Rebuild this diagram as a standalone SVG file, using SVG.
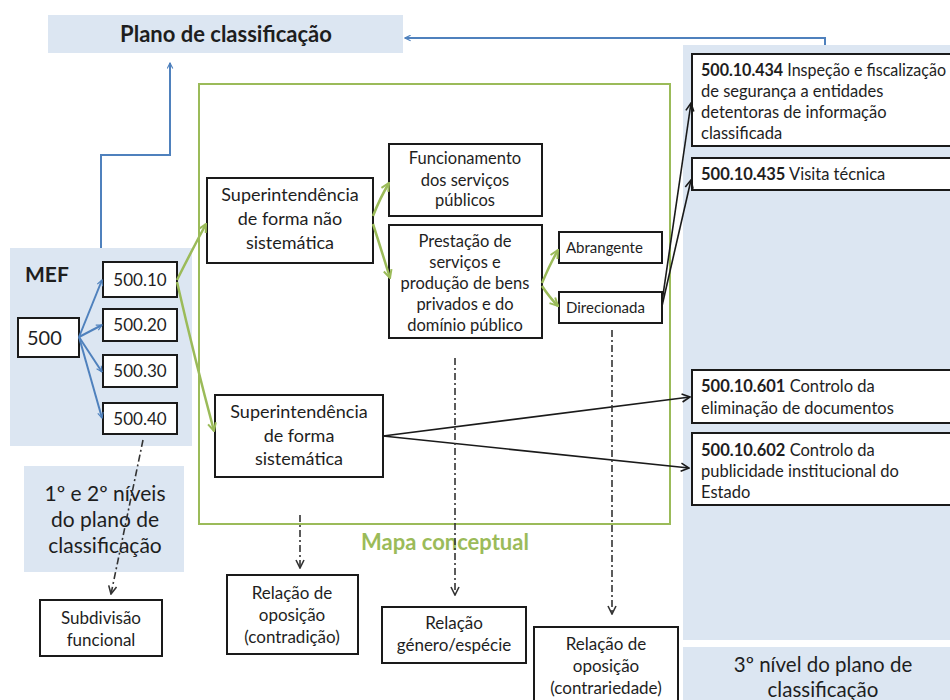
<svg xmlns="http://www.w3.org/2000/svg" width="950" height="700" viewBox="0 0 950 700">
<defs>
<style>
text{font-family:Lato,"Liberation Sans",sans-serif;fill:#1e1e1e}
.box{fill:#fff;stroke:#1a1a1a;stroke-width:2}
.bg{fill:#dce6f2}
.c{text-anchor:middle}
.b{font-weight:bold}
.blue{fill:none;stroke:#4f81bd;stroke-width:2}
.green{fill:none;stroke:#9bbb59;stroke-width:2.5}
.black{fill:none;stroke:#1a1a1a;stroke-width:1.6}
.dd{fill:none;stroke:#333;stroke-width:1.6;stroke-dasharray:7 3 2 3}
.t{font-size:16.5px}
.r{font-size:17px}
</style>
<marker id="ab" viewBox="0 0 10 10" refX="9" refY="5" markerWidth="7" markerHeight="7" orient="auto" markerUnits="userSpaceOnUse">
<path d="M1,1 L9,5 L1,9" fill="none" stroke="#4f81bd" stroke-width="1.6"/></marker>
<marker id="ag" viewBox="0 0 10 10" refX="9" refY="5" markerWidth="10" markerHeight="10" orient="auto" markerUnits="userSpaceOnUse">
<path d="M1,1 L9,5 L1,9" fill="none" stroke="#9bbb59" stroke-width="2"/></marker>
<marker id="ak" viewBox="0 0 10 10" refX="9" refY="5" markerWidth="10" markerHeight="10" orient="auto" markerUnits="userSpaceOnUse">
<path d="M1,1 L9,5 L1,9" fill="none" stroke="#1a1a1a" stroke-width="1.6"/></marker>
<marker id="ad" viewBox="0 0 10 10" refX="9" refY="5" markerWidth="10" markerHeight="10" orient="auto" markerUnits="userSpaceOnUse">
<path d="M1,1 L9,5 L1,9" fill="none" stroke="#333" stroke-width="1.6"/></marker>
</defs>
<rect width="950" height="700" fill="#fff"/>

<g id="plano">
<rect class="bg" x="48" y="15" width="355" height="38"/>
<text class="c b" x="226" y="42" font-size="22">Plano de classificação</text>
</g>
<g id="nivel3">
<rect class="bg" x="683" y="45" width="267" height="595"/>
<rect class="bg" x="683" y="647" width="267" height="53"/>
<text class="c" x="823" y="672" font-size="20.5">3º nível do plano de</text>
<text class="c" x="823" y="697" font-size="20.5">classificação</text>
</g>
<g id="mef">
<rect class="bg" x="10" y="248" width="182" height="198"/>
<text class="b" x="25" y="282" font-size="21">MEF</text>
</g>
<g id="niveis12">
<rect class="bg" x="24" y="466" width="160" height="106"/>
<text class="c" x="105" y="501" font-size="21">1º e 2º níveis</text>
<text class="c" x="105" y="527" font-size="21">do plano de</text>
<text class="c" x="105" y="553" font-size="21">classificação</text>
</g>
<g id="mapa">
<rect x="199" y="84" width="471" height="440" fill="none" stroke="#9bbb59" stroke-width="2"/>
<text class="c b" x="445" y="550" font-size="22" style="fill:#9bbb59">Mapa conceptual</text>
</g>

<g id="n500"><rect class="box" x="18" y="318" width="61" height="39"/><text x="27" y="345" font-size="20">500</text></g>
<g id="n50010"><rect class="box" x="103" y="262" width="74" height="35"/><text class="c" x="140" y="286" font-size="17">500.10</text></g>
<g id="n50020"><rect class="box" x="103" y="309" width="74" height="32"/><text class="c" x="140" y="331" font-size="17">500.20</text></g>
<g id="n50030"><rect class="box" x="103" y="355" width="74" height="32"/><text class="c" x="140" y="377" font-size="17">500.30</text></g>
<g id="n50040"><rect class="box" x="103" y="403" width="74" height="31"/><text class="c" x="140" y="425" font-size="17">500.40</text></g>

<g id="supNao"><rect class="box" x="207" y="178" width="166" height="85"/>
<text class="c" x="290" y="201" font-size="18">Superintendência</text>
<text class="c" x="290" y="225" font-size="18">de forma não</text>
<text class="c" x="290" y="249" font-size="18">sistemática</text></g>

<g id="supSis"><rect class="box" x="215" y="395" width="168" height="82"/>
<text class="c" x="299" y="418" font-size="18">Superintendência</text>
<text class="c" x="299" y="442" font-size="18">de forma</text>
<text class="c" x="299" y="465" font-size="18">sistemática</text></g>

<g id="func"><rect class="box" x="389" y="144" width="153" height="72"/>
<text class="c" x="465" y="164" font-size="16.5">Funcionamento</text>
<text class="c" x="465" y="186" font-size="16.5">dos serviços</text>
<text class="c" x="465" y="206" font-size="16.5">públicos</text></g>

<g id="prest"><rect class="box" x="389" y="225" width="153" height="113"/>
<text class="c" x="465" y="247" font-size="16.5">Prestação de</text>
<text class="c" x="465" y="268" font-size="16.5">serviços e</text>
<text class="c" x="465" y="289" font-size="16.5">produção de bens</text>
<text class="c" x="465" y="310" font-size="16.5">privados e do</text>
<text class="c" x="465" y="331" font-size="16.5">domínio público</text></g>

<g id="abr"><rect class="box" x="559" y="232" width="103" height="31"/>
<text x="566" y="253" font-size="15">Abrangente</text></g>
<g id="dir"><rect class="box" x="559" y="292" width="103" height="31"/>
<text x="566" y="313" font-size="15">Direcionada</text></g>

<g id="n434"><rect class="box" x="692" y="54" width="262" height="92"/>
<text class="t" x="701" y="76" textLength="245" lengthAdjust="spacingAndGlyphs"><tspan class="b">500.10.434</tspan> Inspeção e fiscalização</text>
<text class="t" x="701" y="97">de segurança a entidades</text>
<text class="t" x="701" y="118">detentoras de informação</text>
<text class="t" x="701" y="139">classificada</text></g>

<g id="n435"><rect class="box" x="692" y="158" width="262" height="32"/>
<text class="t" x="701" y="180"><tspan class="b">500.10.435</tspan> Visita técnica</text></g>

<g id="n601"><rect class="box" x="692" y="370" width="262" height="53"/>
<text class="t" x="701" y="392"><tspan class="b">500.10.601</tspan> Controlo da</text>
<text class="t" x="701" y="414">eliminação de documentos</text></g>

<g id="n602"><rect class="box" x="692" y="433" width="262" height="72"/>
<text class="t" x="701" y="456"><tspan class="b">500.10.602</tspan> Controlo da</text>
<text class="t" x="701" y="477">publicidade institucional do</text>
<text class="t" x="701" y="498">Estado</text></g>

<g id="subdiv"><rect class="box" x="40" y="600" width="122" height="56"/>
<text class="c r" x="101" y="624">Subdivisão</text>
<text class="c r" x="101" y="646">funcional</text></g>

<g id="contradicao"><rect class="box" x="227" y="575" width="131" height="79"/>
<text class="c r" x="292" y="599">Relação  de</text>
<text class="c r" x="292" y="621">oposição</text>
<text class="c r" x="292" y="643">(contradição)</text></g>

<g id="genero"><rect class="box" x="382" y="607" width="144" height="56"/>
<text class="c r" x="454" y="629">Relação</text>
<text class="c r" x="454" y="651">género/espécie</text></g>

<g id="contrariedade"><rect class="box" x="534" y="627" width="144" height="80"/>
<text class="c r" x="606" y="650">Relação  de</text>
<text class="c r" x="606" y="672">oposição</text>
<text class="c r" x="606" y="694">(contrariedade)</text></g>

<g id="connectors">
<path class="blue" d="M101,248 V155 H170 V63" marker-end="url(#ab)"/>
<path class="blue" d="M825,45 V38 H405" marker-end="url(#ab)"/>
<path class="blue" d="M79,337 L102,280" marker-end="url(#ab)"/>
<path class="blue" d="M79,337 L102,325" marker-end="url(#ab)"/>
<path class="blue" d="M79,337 L102,372" marker-end="url(#ab)"/>
<path class="blue" d="M79,337 L102,418" marker-end="url(#ab)"/>

<path class="green" d="M177,280 Q192,250 206,224" marker-end="url(#ag)"/>
<path class="green" d="M177,282 Q195,360 214,431" marker-end="url(#ag)"/>
<path class="green" d="M373,216 Q380,198 389,183" marker-end="url(#ag)"/>
<path class="green" d="M373,224 Q382,252 390,278" marker-end="url(#ag)"/>
<path class="green" d="M542,283 Q550,264 558,250" marker-end="url(#ag)"/>
<path class="green" d="M542,286 Q550,298 558,306" marker-end="url(#ag)"/>

<path class="black" d="M662,302 L691,103" marker-end="url(#ak)"/>
<path class="black" d="M662,306 L691,180" marker-end="url(#ak)"/>
<path class="black" d="M383,436 L690,397" marker-end="url(#ak)"/>
<path class="black" d="M383,436 L689,468" marker-end="url(#ak)"/>

<path class="dd" d="M143,440 L111,594" marker-end="url(#ad)"/>
<path class="dd" d="M300,515 V568" marker-end="url(#ad)"/>
<path class="dd" d="M455,358 V595" marker-end="url(#ad)"/>
<path class="dd" d="M612,330 V614" marker-end="url(#ad)"/>
</g>
</svg>
